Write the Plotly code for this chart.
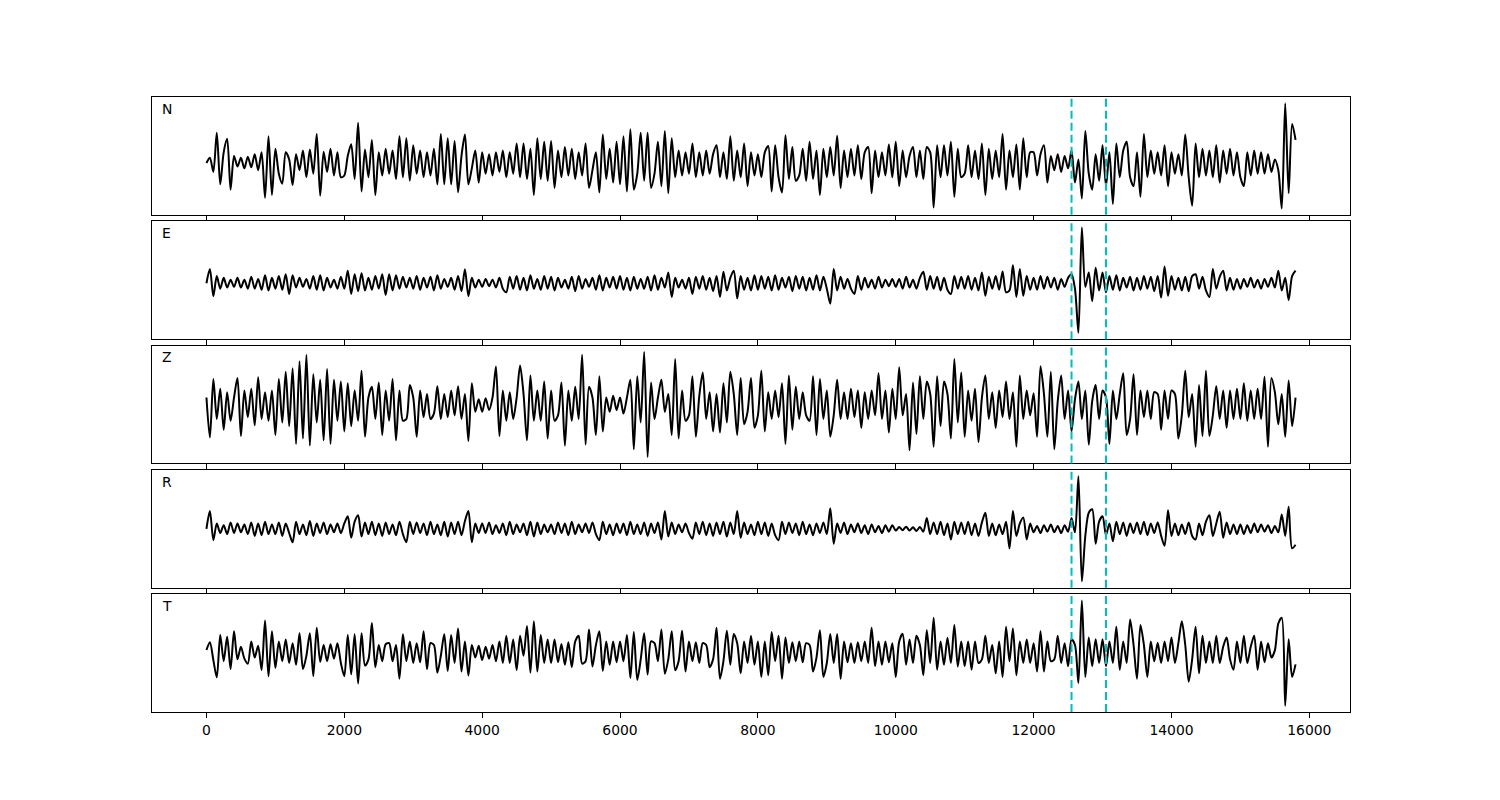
import numpy as np
import plotly.graph_objects as go
from plotly.subplots import make_subplots

# Sample spacing of the traces (x units), traces start at 0
SAMPLE_STEP = 50
COMPONENTS = ["N", "E", "Z", "R", "T"]
PICKS = [12550, 13050]
X_TICKS = [0, 2000, 4000, 6000, 8000, 10000, 12000, 14000, 16000]
X_TICK_LABELS = ["0", "2000", "4000", "6000", "8000", "10000", "12000", "14000", "16000"]

N_VALUES = [
    0, 15, -25, 85, -60, 30, 68, -75, 20, -10, 15, -15, 18, -12, 25, -20, 30, -98, 75, -90,
    40, -30, -58, 30, 10, -62, 25, -20, 35, -40, 38, -30, 82, -92, 32, -25, 40, -35, 30, -40,
    -35, 20, 53, -45, 113, -80, 38, -40, 65, -90, 30, -35, 40, -30, 35, -45, 75, -40, 70, -50,
    50, -30, 35, -40, 30, -35, 40, -60, 82, -60, 70, -60, 62, -82, 20, 80, -60, -15, 35, -55,
    30, -30, 25, -35, 30, -25, 35, -40, 30, -30, 55, -40, 55, -45, 40, -90, 70, -45, 60, -50,
    62, -70, 35, -40, 45, -35, 40, -45, 30, -35, 55, -70, -20, 30, -83, 80, -45, 40, -55, 60,
    -60, 75, -80, 95, -75, -30, 85, -50, 85, -70, -30, 60, -65, 90, -85, 70, -40, 35, -35, 30,
    -30, 55, -40, 30, -35, 35, -30, 25, 50, -40, 30, -45, 75, -50, 35, -40, 55, -65, 30, -35,
    25, -40, 30, 48, -80, 50, -40, -83, 78, -45, 45, -50, -35, 40, -50, 60, -45, 35, -90, 40,
    -40, 45, -35, 77, -70, 35, -40, 40, -35, 50, -45, 30, 45, -85, 35, -40, 30, -35, 52, -40,
    60, -65, 35, -40, 20, 45, -40, 35, -45, 45, 30, -125, 50, -40, 50, -35, 60, -95, 40, -40,
    -30, 50, -40, 35, -45, 55, -90, 40, -45, 35, -40, 82, -75, 35, -40, 52, -75, 70, -40, 30,
    30, -35, 25, 50, -55, 20, -20, 25, -25, 20, -15, 35, -55, 10, -100, 90, -30, -75, 25, -50,
    50, -65, 30, -115, 55, -40, 35, 60, -40, -65, 30, -95, 82, -40, 35, -30, 30, -35, 50, -65,
    30, -30, 25, -35, 80, -40, -120, 55, -40, 40, -35, 35, -40, 50, -55, 35, -30, 40, -35, 30,
    -40, -65, 30, -35, 35, -30, 30, -30, 25, -25, 10, -20, -128, 168, -85, 110, 65,
]

E_VALUES = [
    0, 40, -36, 20, -15, 15, -12, 10, -10, 15, -12, 10, -15, 18, -15, 12, -18, 22, -20, 15,
    -15, 20, -18, 25, -30, 22, -12, 15, -10, 12, -15, 20, -18, 22, -20, 15, -12, 10, -15, 18,
    -15, 35, -30, 25, -22, 28, -20, 15, -18, 20, -15, 25, -33, 25, -20, 22, -15, 18, -12, 15,
    -15, 20, -18, 15, -12, 18, -20, 22, -15, 12, -10, 15, -18, 20, -22, 39, -36, 15, -12, 10,
    -10, 12, -8, 10, -12, 15, -15, -25, 18, -15, 20, -18, 15, -20, 22, -15, 12, -18, 20, -15,
    18, -20, 15, -12, 10, -15, 18, -22, 20, -15, 12, -10, 15, -18, 22, -20, 15, -12, 18, -15,
    20, -18, 15, -20, 18, -15, 12, -15, 18, -20, 22, -18, 15, -12, 30, -38, 15, -12, 10, -15,
    15, -30, 18, -15, 20, -18, 15, -22, 20, -38, 32, -20, 15, 35, -42, 20, -18, 15, -20, 22,
    -18, 20, -15, 18, -20, 22, -18, 15, -12, 18, -22, 20, -15, 18, -20, 15, -18, 22, -20, 18,
    -15, -57, 40, -20, 18, -15, 12, -15, -30, 20, -18, 15, -12, 10, -15, 18, -12, 10, -8, 12,
    -10, 12, -15, 18, -12, 10, -15, 15, 32, -18, 20, -15, 18, -20, 15, -18, -30, 20, -15, 18,
    -15, 20, -18, 15, -20, 30, -35, 18, -15, 20, -18, 33, -25, -20, 50, -38, 40, -35, 20, -18,
    15, -18, 20, -15, 18, -12, 15, -18, 12, -10, 15, 25, -15, -138, 155, -10, 30, -50, 43, -20,
    30, -25, 20, -18, 22, -20, 15, -12, 18, -20, 15, -18, 20, -15, 18, -22, 20, -40, 47, -35,
    20, -18, 15, -20, 18, -22, 20, 25, -15, 18, -20, -38, 40, -15, 18, 35, -20, 15, -18, 12,
    -15, 12, -10, 15, -12, 10, -15, 12, -10, 15, -12, 35, -20, 15, -47, 20, 35,
]

Z_VALUES = [
    20, -92, 72, -40, 45, -70, 35, -45, 20, 75, -88, 40, -35, 45, -58, 77, -40, 35, -45, 40,
    -85, 72, -50, 92, -60, 102, -110, 122, -95, 140, -115, 85, -50, 70, -100, 100, -110, 70, -45, 65,
    -75, 60, -60, 40, -45, 95, -90, 20, 50, -40, 62, -85, 40, -45, 72, -100, 40, -45, -40, 55,
    20, -90, 40, -35, 30, -40, -25, 52, -40, 30, -35, 40, -30, 52, -40, 30, -102, 60, -20, 15,
    -20, 18, -15, 20, 107, -88, 40, -45, 35, -40, 20, 110, 30, -100, 82, -45, 40, -45, 65, -95,
    40, -45, -30, 62, -115, 40, -45, 50, -40, 140, -112, 50, 20, -85, 80, -75, 20, -20, 25, -15,
    20, -25, 20, 70, -125, 80, -50, 148, -147, 62, -40, 20, 70, -20, 30, -85, 128, -95, 40, -45,
    -30, 80, -90, 25, 90, -40, 35, -75, 30, -78, 60, -50, 92, 30, -85, 75, -55, -20, 75, -65,
    -30, 95, -75, 35, -40, 40, -35, 60, -110, 82, -70, 50, -40, 35, -30, -45, 80, -85, 72, -40,
    40, -90, -30, 70, -40, 35, -40, 45, -35, 40, -65, 35, -40, 40, -30, 88, -40, 40, -78, 45,
    -40, 105, -30, 30, -128, 62, -82, 80, -40, 65, 30, -118, 80, -60, 65, 30, -95, 128, -50, 90,
    -90, 40, -45, 45, -105, 20, 82, -40, 35, -65, 40, -35, 65, -40, 35, -118, 82, -40, 40, -30,
    32, -90, 108, 30, -90, 92, -125, 10, 82, -40, 40, -75, 15, 65, -40, 40, -112, 10, 55, -40,
    40, 20, -110, 40, -40, 30, 88, -85, -40, 85, -85, 40, -35, 40, -40, 35, 30, -70, 40, -40,
    40, 30, -95, -30, 95, -35, 30, -118, 55, -88, 95, -88, -30, 52, -40, 40, -65, 40, -40, 45,
    -40, 60, -45, 40, -40, 45, -40, 78, -118, 75, 35, -55, 30, -90, 68, -60, 20,
]

R_VALUES = [
    0, 50, -32, 15, -12, 10, -15, 18, -12, 15, -10, 12, -15, 18, -20, 15, -18, 20, -15, 12,
    -15, 18, -20, 15, -12, -38, 20, -15, 12, -18, 22, -20, 15, -12, 18, -15, 12, -10, 15, -12,
    15, 35, -25, 20, 38, -22, 18, -15, 20, -18, 15, -20, 18, -15, 12, -18, 20, -15, -38, 20,
    -15, 18, -12, 15, -18, 20, -15, 12, -18, 20, -22, 18, -15, 20, -18, 22, 50, -38, 15, -12,
    15, -12, 18, -15, 10, -12, 15, -18, 20, -15, 12, -10, 15, -18, 20, -22, 18, -15, 12, -10,
    12, -15, 18, -12, 15, -18, 20, -15, 12, -10, 15, -12, 18, -15, -32, 20, -15, 12, -18, 15,
    -12, 15, -18, 20, -15, 12, -15, 18, -20, 15, -12, 18, -30, 50, -22, 18, -15, 12, -10, 15,
    -12, -28, 18, -15, 20, -18, 15, -20, 18, -15, 20, -22, 18, -15, 50, -25, 18, -15, 12, -18,
    20, -15, 18, -20, 15, -18, -32, 20, -15, 18, -12, 15, -18, 20, -15, 12, -18, 15, -12, 18,
    -15, 58, -42, 15, -12, 18, -15, 12, -10, 15, -12, 10, -15, 12, -10, 8, -12, 10, -8, 10,
    -5, 5, -4, 6, -5, 4, -6, 5, -8, 30, -15, 18, -15, 20, -18, 15, -30, 20, -15, 18,
    -15, 20, -18, 15, -20, 18, 45, -20, 15, -18, 12, -15, 20, -55, 50, -20, 15, 32, -30, 15,
    -10, 8, -12, 10, -8, 12, -10, 8, -12, 10, -8, 30, -10, 148, -148, -20, 45, 55, -42, 20,
    35, -18, 15, -35, 20, -15, 18, -20, 15, -12, 18, -15, 20, -18, 15, -12, 18, -20, -48, 52,
    -20, 15, -18, 12, -15, 18, -20, -30, 15, -18, 20, 38, -20, 15, 48, -25, 18, -15, 12, -15,
    12, -15, 10, -12, 15, -10, 12, -8, 10, -12, 8, -10, 40, -20, 62, -55, -45,
]

T_VALUES = [
    6, 28, -22, -70, 48, -25, 43, -47, 58, -20, 15, -18, -32, 30, -15, 18, -50, 88, -67, 58,
    -44, 30, -25, 35, -30, 25, -35, 53, -47, -10, 53, -67, 68, -27, 20, -25, 22, -18, 25, -30,
    -67, 48, -62, 50, -87, 53, -37, -20, 81, -42, 20, -25, 22, 25, -25, 20, -74, 50, -25, 30,
    -30, 25, -28, 58, -47, 25, 20, -57, -10, 50, -52, 48, -30, 66, -54, 30, -65, 20, -15, 18,
    -22, 15, -18, 20, -25, 30, -30, 46, -30, 35, -50, 46, -10, 73, -57, 86, -54, 48, -30, 35,
    -30, 35, -28, 23, -35, 28, -42, 30, 46, -32, -25, 63, -40, 20, 58, -52, 30, -35, 30, -28,
    30, -25, 48, -72, 56, -77, -20, 53, -62, 30, 25, -25, 63, -60, -20, 58, -50, -25, 60, -54,
    30, -25, 28, -30, 25, 20, -42, -20, 68, -74, -25, 60, -35, 51, 25, -59, 30, -30, 46, -35,
    30, -69, 30, -64, 56, -25, 46, -74, 41, -30, 28, -25, 30, -28, 25, 20, -54, -15, 61, -69,
    -30, 51, -30, 51, -74, 30, -28, 25, -30, 28, -25, 30, -30, 68, -39, 30, -35, 30, -28, 25,
    -69, 30, 51, -35, 35, -30, 46, 20, -64, 61, -30, 96, -49, 30, -35, 40, -30, 76, -40, 30,
    -39, 30, -49, 30, -30, -20, 46, -30, 20, -59, 30, -69, 71, -25, 66, -64, 30, -30, 35, -30,
    25, -54, 58, -54, 30, -25, -20, 46, -30, 25, -39, 36, 20, -86, 144, -69, 41, -39, 36, -30,
    36, -39, 30, -30, 71, -49, 30, -30, 91, 20, -74, 76, 20, -69, 30, -25, 26, -30, 30, -25,
    41, -30, 25, 86, 20, -82, -20, 71, -59, 46, -30, 30, -30, 46, -30, 15, 41, -20, -49, 30,
    -30, 46, -30, 15, 46, -49, 30, -28, 25, -15, 5, 80, 96, -149, 36, -69, -34,
]

SERIES = [N_VALUES, E_VALUES, Z_VALUES, R_VALUES, T_VALUES]

fig = make_subplots(rows=5, cols=1, shared_xaxes=True, vertical_spacing=0.0105)

for i, (name, vals) in enumerate(zip(COMPONENTS, SERIES)):
    row = i + 1
    t = np.arange(len(vals)) * SAMPLE_STEP
    fig.add_trace(
        go.Scatter(x=t, y=vals, mode="lines",
                   line=dict(color="black", width=2, shape="spline", smoothing=0.8),
                   showlegend=False, hoverinfo="skip"),
        row=row, col=1,
    )
    lo, hi = min(vals), max(vals)
    span = hi - lo
    fig.update_yaxes(range=[lo - 0.06 * span, hi + 0.06 * span], row=row, col=1)
    xr = "x" if row == 1 else f"x{row}"
    yr = "y" if row == 1 else f"y{row}"
    for p in PICKS:
        fig.add_shape(type="line", x0=p, x1=p, y0=0, y1=1,
                      xref=xr, yref=f"{yr} domain",
                      line=dict(color="#00bfbf", width=2, dash="8px,4px"))
    fig.add_annotation(text=name, x=0.007, y=0.9,
                       xref=f"{xr} domain", yref=f"{yr} domain",
                       showarrow=False, xanchor="left", yanchor="middle",
                       font=dict(size=13.9, color="black"))

fig.update_xaxes(range=[-790, 16590], tickvals=X_TICKS, ticktext=X_TICK_LABELS,
                 ticks="outside", ticklen=5, tickwidth=1, tickcolor="black",
                 showline=True, linecolor="black", linewidth=1, mirror=True,
                 showgrid=False, zeroline=False,
                 tickfont=dict(size=13.9, color="black"))
fig.update_yaxes(showticklabels=False, ticks="", showline=True, mirror=True,
                 linecolor="black", linewidth=1, showgrid=False, zeroline=False)

fig.update_layout(
    width=1492, height=792,
    margin=dict(l=144, r=150, t=89, b=88),
    plot_bgcolor="white", paper_bgcolor="white",
    font=dict(family="DejaVu Sans", color="black"),
)

fig.write_html("out.html")
